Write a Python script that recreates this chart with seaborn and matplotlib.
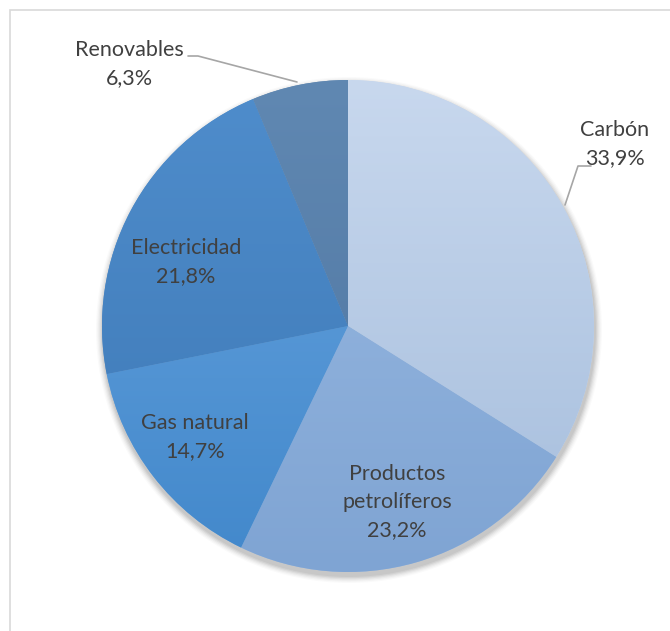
import numpy as np
import matplotlib.pyplot as plt
import seaborn as sns
from matplotlib.patches import Rectangle, Circle
from matplotlib.colors import LinearSegmentedColormap

sns.set_style("white")
plt.rcParams['font.family'] = ['Lato', 'DejaVu Sans']

# data
labels = ["Carbón", "Productos\npetrolíferos", "Gas natural", "Electricidad", "Renovables"]
values = [33.9, 23.2, 14.7, 21.8, 6.3]
pct_text = ["33,9%", "23,2%", "14,7%", "21,8%", "6,3%"]
top_colors = ["#c8d8ee", "#9bbbe3", "#68a4df", "#4f8dcc", "#6088b2"]
bot_colors = ["#a5bddc", "#7fa4d3", "#4288cb", "#3d78b5", "#4d74a0"]

W, H = 670, 631
cx, cy, R = 348, H - 326, 246

fig = plt.figure(figsize=(W / 100, H / 100), dpi=100)
ax = fig.add_axes([0, 0, 1, 1])

# soft shadow
for i, a in enumerate(np.linspace(0.06, 0.02, 6)):
    ax.add_patch(Circle((cx + 1, cy - 4), R + 1 + i * 1.2, color="black", alpha=a, lw=0, zorder=1))

wedges, _ = ax.pie(values, startangle=90, counterclock=False, center=(cx, cy),
                   radius=R, colors=top_colors, wedgeprops=dict(lw=0, zorder=2), frame=True)
ax.set_aspect("equal")
ax.axis("off")

# chart frame
ax.add_patch(Rectangle((10, -20), W + 20, H - 10 + 20, fill=False, ec="#d9d9d9", lw=1.2))

# vertical gradient in each slice
for w, c1, c2 in zip(wedges, top_colors, bot_colors):
    cmap = LinearSegmentedColormap.from_list("g", [c2, c1])
    grad = np.linspace(0, 1, 256).reshape(-1, 1)
    im = ax.imshow(grad, cmap=cmap, origin="lower", aspect="auto",
                   extent=(cx - R, cx + R, cy - R, cy + R), zorder=3)
    im.set_clip_path(w)
ax.set_xlim(0, W)
ax.set_ylim(0, H)

tc = "#404040"
fs = 15.5
ls = 1.5
# inside labels
ax.text(397, H - 502, labels[1] + "\n" + pct_text[1], ha="center", va="center",
        color=tc, fontsize=fs, linespacing=ls, zorder=5)
ax.text(195, H - 437, labels[2] + "\n" + pct_text[2], ha="center", va="center",
        color=tc, fontsize=fs, linespacing=ls, zorder=5)
ax.text(186, H - 262, labels[3] + "\n" + pct_text[3], ha="center", va="center",
        color=tc, fontsize=fs, linespacing=ls, zorder=5)

# outside labels with leader lines
ax.text(615, H - 144, labels[0] + "\n" + pct_text[0], ha="center", va="center",
        color=tc, fontsize=fs, linespacing=ls, zorder=5)
ax.plot([565, 578, 591], [H - 205, H - 166, H - 166], color="#a6a6a6", lw=1.2, zorder=5)

ax.text(129, H - 64, labels[4] + "\n" + pct_text[4], ha="center", va="center",
        color=tc, fontsize=fs, linespacing=ls, zorder=5)
ax.plot([188, 198, 297], [H - 56, H - 56, H - 82], color="#a6a6a6", lw=1.2, zorder=5)

fig.savefig("out.png", dpi=100)
